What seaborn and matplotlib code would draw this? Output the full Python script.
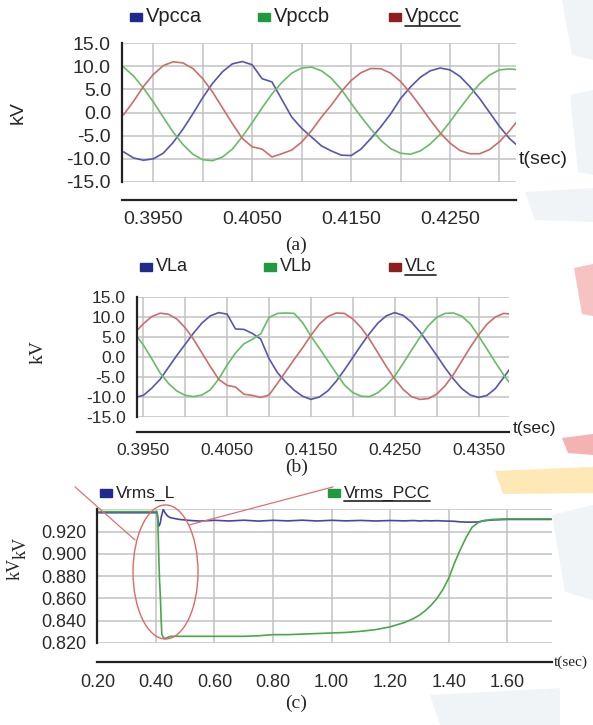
import pandas as pd
import seaborn as sns
import matplotlib.pyplot as plt
from matplotlib.patches import Ellipse, Rectangle, Polygon
from matplotlib.lines import Line2D

# ---- panel (a): PCC phase voltages (kV) ----
t_a = [0.392, 0.393, 0.394, 0.395, 0.396, 0.397, 0.398, 0.399, 0.400, 0.401,
       0.402, 0.403, 0.404, 0.405, 0.406, 0.407, 0.408, 0.409, 0.410, 0.411,
       0.412, 0.413, 0.414, 0.415, 0.416, 0.417, 0.418, 0.419, 0.420, 0.421,
       0.422, 0.423, 0.424, 0.425, 0.426, 0.427, 0.428, 0.429, 0.430, 0.431, 0.432]
vpcca = [-8.5, -9.8, -10.3, -10.0, -8.8, -6.5, -3.6, -0.3, 3.2, 6.3,
         8.8, 10.5, 11.0, 10.3, 7.3, 6.6, 2.8, -1.0, -3.4, -5.3,
         -7.2, -8.3, -9.2, -9.3, -7.9, -5.6, -3.1, -0.3, 3.0, 5.5,
         7.6, 9.0, 9.6, 9.2, 7.8, 5.6, 3.0, 0.0, -3.0, -5.6, -7.5]
vpccb = [9.8, 7.9, 5.3, 2.3, -1.0, -4.2, -6.9, -9.0, -10.2, -10.4,
         -9.6, -7.9, -5.2, -2.2, 1.0, 4.0, 6.5, 8.5, 9.6, 9.8,
         9.0, 7.4, 5.0, 2.0, -0.9, -3.6, -6.0, -7.8, -8.8, -9.0,
         -8.3, -6.8, -4.7, -2.0, 0.9, 3.7, 6.2, 8.1, 9.2, 9.4, 9.2]
vpccc = [-0.5, 2.4, 5.6, 8.2, 10.1, 10.95, 10.7, 9.5, 7.3, 4.4,
         1.0, -2.4, -5.6, -7.4, -7.9, -9.6, -8.9, -8.1, -6.4, -3.9,
         -1.0, 1.6, 4.5, 6.9, 8.6, 9.5, 9.45, 8.5, 6.7, 4.2,
         1.35, -1.6, -4.4, -6.6, -8.2, -8.9, -8.9, -8.0, -6.3, -4.0, -1.3]
names_a = ["Vpcca", "Vpccb", "Vpccc"]
xticks_a = [0.395, 0.400, 0.405, 0.410, 0.415, 0.420, 0.425, 0.430]
xlabels_a = ["0.3950", "", "0.4050", "", "0.4150", "", "0.4250", ""]

# ---- panel (b): load phase voltages (kV) ----
t_b = [0.394, 0.395, 0.396, 0.397, 0.398, 0.399, 0.400, 0.401, 0.402, 0.403,
       0.404, 0.405, 0.406, 0.407, 0.408, 0.409, 0.410, 0.411, 0.412, 0.413,
       0.414, 0.415, 0.416, 0.417, 0.418, 0.419, 0.420, 0.421, 0.422, 0.423,
       0.424, 0.425, 0.426, 0.427, 0.428, 0.429, 0.430, 0.431, 0.432, 0.433,
       0.434, 0.435, 0.436, 0.437, 0.438, 0.439]
vla = [-10.1, -9.6, -7.8, -5.6, -2.6, 0.4, 3.2, 6.0, 8.5, 10.3,
       11.1, 10.7, 7.0, 6.9, 5.9, 4.5, -0.4, -3.9, -6.3, -8.3,
       -9.8, -10.6, -10.0, -8.5, -6.1, -3.2, -0.1, 3.0, 5.9, 8.5,
       10.3, 11.1, 10.4, 8.7, 6.3, 3.4, 0.4, -2.7, -5.5, -7.9,
       -9.5, -10.1, -9.6, -7.9, -5.1, -2.2]
vlb = [5.8, 3.0, -0.4, -4.0, -6.6, -8.5, -9.6, -9.9, -9.5, -8.2,
       -5.5, -2.0, 1.0, 3.3, 4.4, 5.8, 9.9, 10.9, 11.0, 10.9,
       8.6, 5.2, 2.2, -0.9, -4.0, -7.0, -8.9, -9.8, -9.9, -8.9,
       -7.1, -4.8, -1.6, 1.7, 4.9, 7.8, 9.9, 10.9, 11.0, 10.2,
       8.3, 5.3, 2.0, -1.3, -4.5, -7.3]
vlc = [6.1, 8.3, 10.1, 10.95, 10.7, 9.5, 7.3, 4.4, 1.0, -2.4,
       -5.6, -7.1, -7.5, -9.3, -9.6, -10.1, -9.5, -6.6, -3.6, -0.6,
       2.3, 5.4, 8.2, 10.1, 11.0, 10.9, 9.5, 7.3, 4.4, 1.0,
       -2.4, -5.5, -8.1, -9.9, -10.6, -10.4, -9.3, -7.2, -4.4, -1.0,
       2.4, 5.5, 8.2, 10.0, 10.9, 10.7]
names_b = ["VLa", "VLb", "VLc"]
xticks_b = [0.395, 0.400, 0.405, 0.410, 0.415, 0.420, 0.425, 0.430, 0.435]
xlabels_b = ["0.3950", "", "0.4050", "", "0.4150", "", "0.4250", "", "0.4350"]

yticks_ab = [-15, -10, -5, 0, 5, 10, 15]
ylabels_ab = ["-15.0", "-10.0", "-5.0", "0.0", "5.0", "10.0", "15.0"]

# ---- panel (c): rms voltages (kV) ----
t_c = [0.20, 0.30, 0.40, 0.404, 0.406, 0.408, 0.410, 0.412, 0.415, 0.418,
       0.420, 0.425, 0.430, 0.435, 0.440, 0.450, 0.460, 0.480, 0.500, 0.520,
       0.55, 0.60, 0.65, 0.70, 0.75, 0.80, 0.85, 0.90, 0.95, 1.00,
       1.05, 1.10, 1.15, 1.20, 1.25, 1.28, 1.30, 1.32, 1.34, 1.36,
       1.38, 1.40, 1.42, 1.44, 1.46, 1.48, 1.50, 1.52, 1.55, 1.60,
       1.65, 1.70, 1.75]
vrms_l = [0.937, 0.937, 0.937, 0.937, 0.933, 0.927, 0.925, 0.926, 0.928, 0.933,
          0.935, 0.940, 0.9375, 0.9355, 0.934, 0.9325, 0.932, 0.931, 0.9305, 0.9300,
          0.9295, 0.9302, 0.9296, 0.9303, 0.9295, 0.9302, 0.9297, 0.9303, 0.9296, 0.9302,
          0.9297, 0.9301, 0.9296, 0.9300, 0.9297, 0.9300, 0.9296, 0.9299, 0.9297, 0.9299,
          0.9296, 0.9295, 0.9293, 0.9288, 0.9286, 0.9286, 0.9287, 0.9298, 0.9305, 0.931,
          0.931, 0.931, 0.931]
vrms_pcc = [0.938, 0.938, 0.938, 0.938, 0.930, 0.915, 0.895, 0.878, 0.862, 0.840,
            0.828, 0.825, 0.824, 0.8245, 0.825, 0.826, 0.826, 0.826, 0.826, 0.826,
            0.826, 0.826, 0.826, 0.826, 0.8265, 0.8275, 0.8275, 0.828, 0.8285, 0.829,
            0.8295, 0.8305, 0.832, 0.8345, 0.8385, 0.842, 0.845, 0.849, 0.854, 0.860,
            0.868, 0.878, 0.892, 0.904, 0.915, 0.924, 0.928, 0.930, 0.931, 0.9315,
            0.9315, 0.9315, 0.9315]
names_c = ["Vrms_L", "Vrms_PCC"]
xticks_c = [0.2, 0.4, 0.6, 0.8, 1.0, 1.2, 1.4, 1.6]
xlabels_c = ["0.20", "0.40", "0.60", "0.80", "1.00", "1.20", "1.40", "1.60"]
yticks_c = [0.82, 0.84, 0.86, 0.88, 0.90, 0.92, 0.94]
ylabels_c = ["0.820", "0.840", "0.860", "0.880", "0.900", "0.920", ""]

# colours
line_cols = ["#5656ae", "#68bb68", "#cc6c6c"]
key_cols = ["#1e2a8c", "#1f9a40", "#8c1e1e"]
rms_cols = ["#4646a6", "#4aa84a"]
GRID = "#c2c2c2"
INK = "#222222"

sns.set_style("white")
plt.rcParams["font.family"] = ["Liberation Sans", "DejaVu Sans"]

W, H = 593, 725
fig = plt.figure(figsize=(W / 100, H / 100), dpi=100)


def fx(x):
    return x / W


def fy(y):
    return 1 - y / H


def make_axes(left, top, right, bottom):
    return fig.add_axes([fx(left), fy(bottom), (right - left) / W, (bottom - top) / H])


def patch(pts, color):
    # faint page watermark behind the charts (figure pixel coordinates)
    fig.add_artist(Polygon([(fx(x), fy(y)) for x, y in pts], closed=True,
                           transform=fig.transFigure, facecolor=color,
                           edgecolor="none", zorder=-5))


def style(ax, drop, size):
    ax.patch.set_alpha(0)
    ax.grid(True, color=GRID, linewidth=1.1)
    ax.set_axisbelow(True)
    ax.spines["top"].set_visible(False)
    ax.spines["right"].set_visible(False)
    for s in ("left", "bottom"):
        ax.spines[s].set_color(INK)
        ax.spines[s].set_linewidth(1.6)
    ax.spines["bottom"].set_position(("outward", drop))
    ax.tick_params(direction="out", length=5, width=1.3, color=INK,
                   labelsize=size, labelcolor="#2a2a2a")
    ax.tick_params(axis="y", pad=3)
    ax.tick_params(axis="x", pad=3)
    ax.set_xlabel("")
    ax.set_ylabel("")


def key(x_sq, y, color, label, size, underline=False):
    fig.add_artist(Rectangle((fx(x_sq - 6), fy(y + 4)), 12 / W, 8 / H,
                             transform=fig.transFigure, color=color))
    txt = fig.text(fx(x_sq + 10), fy(y), label, fontsize=size, va="center",
                   ha="left", color="#222222")
    if underline:
        bb = txt.get_window_extent(renderer=fig.canvas.get_renderer())
        uy = fy(y + size * 0.62)
        fig.add_artist(Line2D([bb.x0 / W, bb.x1 / W], [uy, uy],
                              transform=fig.transFigure, color="#333333", lw=1.3))


def three_phase(ax, t, series, names):
    df = pd.DataFrame({"t": list(t) * 3,
                       "v": series[0] + series[1] + series[2],
                       "phase": [n for n in names for _ in t]})
    sns.lineplot(data=df, x="t", y="v", hue="phase", palette=line_cols,
                 estimator=None, sort=False, linewidth=1.2, legend=False, ax=ax)


# watermark fragments of the source page
pale = "#f1f4f7"
patch([(562, 0), (593, 0), (593, 60), (572, 55)], pale)
patch([(570, 95), (593, 90), (593, 175), (578, 172)], pale)
patch([(525, 192), (593, 188), (593, 222), (535, 220)], pale)
patch([(552, 515), (593, 505), (593, 600), (565, 592)], pale)
patch([(430, 695), (560, 688), (560, 725), (440, 725)], pale)
patch([(574, 268), (593, 264), (593, 316), (582, 314)], "#f7c2c2")
patch([(562, 438), (593, 434), (593, 455), (568, 453)], "#f5b2b2")
patch([(495, 471), (593, 467), (593, 493), (503, 494)], "#fde8b6")

# ---------- (a) ----------
ax_a = make_axes(122, 43, 516, 182)
three_phase(ax_a, t_a, [vpcca, vpccb, vpccc], names_a)
ax_a.set_xlim(0.39184, 0.43167)
ax_a.set_ylim(-15, 15)
ax_a.set_xticks(xticks_a, xlabels_a)
ax_a.set_yticks(yticks_ab, ylabels_ab)
style(ax_a, 13, 14)
fig.text(fx(18), fy(113), "kV", rotation=90, fontsize=14, va="center", ha="center")
fig.text(fx(519), fy(160), "t(sec)", fontsize=14, va="center", ha="left", color="#222222")
for i in range(3):
    key([136, 264, 395][i], 17, key_cols[i], names_a[i], 14.5, underline=(i == 2))
fig.text(0.5, fy(245), "(a)", family="Liberation Serif", fontsize=14, ha="center", va="center")

# ---------- (b) ----------
ax_b = make_axes(136.7, 297, 508.5, 417)
three_phase(ax_b, t_b, [vla, vlb, vlc], names_b)
ax_b.set_xlim(0.39421, 0.43857)
ax_b.set_ylim(-15, 15)
ax_b.set_xticks(xticks_b, xlabels_b)
ax_b.set_yticks(yticks_ab, ylabels_ab)
style(ax_b, 11, 12.5)
fig.text(fx(38), fy(352), "kV", rotation=90, fontsize=14, va="center", ha="center",
         family="Liberation Serif")
fig.text(fx(513), fy(428), "t(sec)", fontsize=12.5, va="center", ha="left", color="#222222")
for i in range(3):
    key([146, 270, 395][i], 267, key_cols[i], names_b[i], 13, underline=(i == 2))
fig.text(0.5, fy(467), "(b)", family="Liberation Serif", fontsize=14, ha="center", va="center")

# ---------- (c) ----------
ax_c = make_axes(97.4, 509.4, 552, 643)
df_c = pd.DataFrame({"t": t_c * 2, "v": vrms_l + vrms_pcc,
                     "signal": [n for n in names_c for _ in t_c]})
sns.lineplot(data=df_c, x="t", y="v", hue="signal", palette=rms_cols,
             estimator=None, sort=False, linewidth=1.2, legend=False, ax=ax_c)
ax_c.set_xlim(0.2, 1.753)
ax_c.set_ylim(0.82, 0.94)
ax_c.set_xticks(xticks_c, xlabels_c)
ax_c.set_yticks(yticks_c, ylabels_c)
style(ax_c, 14, 13)

# highlight ellipse and its two pointer lines
ax_c.add_patch(Ellipse((0.4327, 0.8838), 0.222, 0.1204, fill=False,
                       edgecolor="#e06868", lw=1.0, clip_on=False, zorder=5))
ax_c.plot([0.1235, 0.3285], [0.9602, 0.9125], color="#e07070", lw=0.9, clip_on=False)
ax_c.plot([0.513, 1.005], [0.926, 0.9602], color="#e07070", lw=0.9, clip_on=False)

fig.text(fx(15), fy(569), "kV", rotation=90, fontsize=13, va="center", ha="center",
         family="Liberation Serif")
fig.text(fx(21), fy(548), "kV", rotation=90, fontsize=13, va="center", ha="center",
         family="Liberation Serif")
fig.text(fx(554), fy(662), "t(sec)", fontsize=11, va="center", ha="left",
         family="Liberation Serif", color="#222222")
key(106, 493, key_cols[0], names_c[0], 12.5)
key(334, 493, key_cols[1], names_c[1], 12.5, underline=True)
fig.text(0.5, fy(703), "(c)", family="Liberation Serif", fontsize=14, ha="center", va="center")

fig.savefig("out.png", dpi=100)
